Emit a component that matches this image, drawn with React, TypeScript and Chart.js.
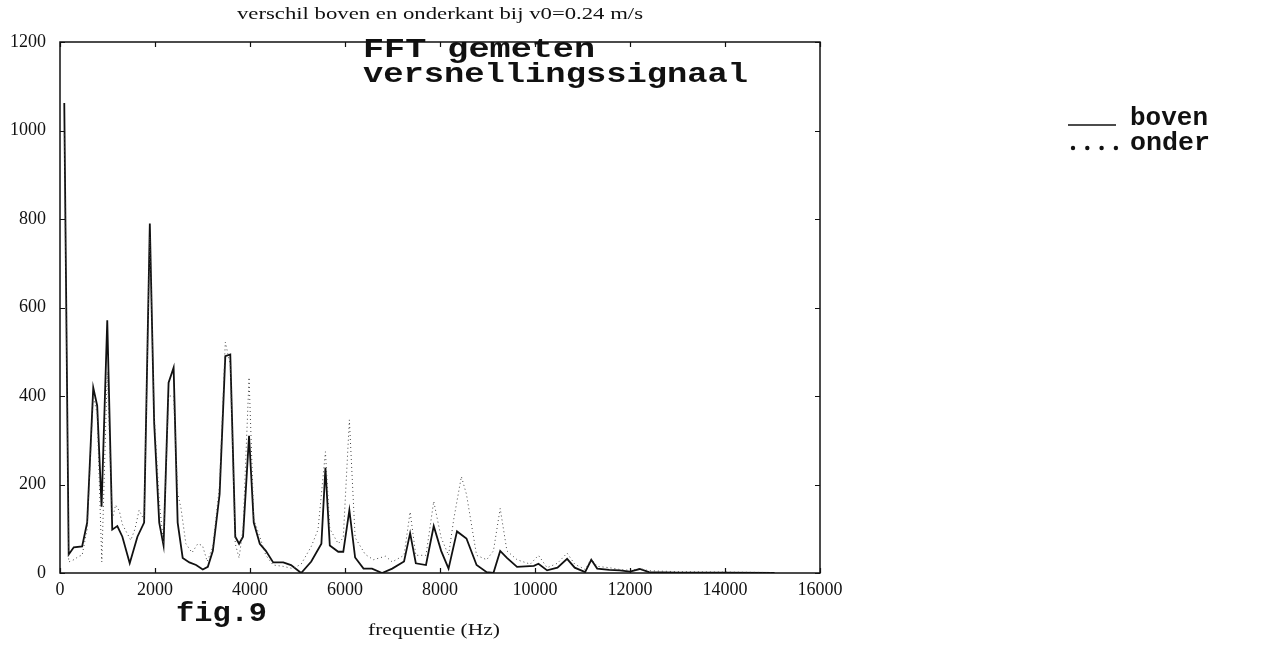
import React, { useEffect, useRef } from "react";
import { Chart, registerables } from "chart.js";

Chart.register(...registerables);

// FFT magnitude of the measured acceleration signal, top side ("boven")
const bovenFreq = [
  90, 183, 290, 466, 572, 700, 783, 875, 995, 1100, 1207, 1313, 1468, 1630, 1771, 1891, 1983,
  2089, 2180, 2286, 2392, 2477, 2583, 2724, 2865, 3006, 3112, 3218, 3360, 3480, 3585, 3690,
  3770, 3853, 3980, 4079, 4206, 4333, 4488, 4700, 4864, 5077, 5290, 5503, 5588, 5680, 5858,
  5964, 6092, 6213, 6390, 6568, 6781, 6994, 7243, 7371, 7491, 7705, 7868, 8024, 8180, 8358,
  8557, 8770, 8983, 9125, 9267, 9409, 9622, 9977, 10073, 10255, 10473, 10676, 10836, 11055,
  11185, 11309, 11564, 11782, 12000, 12204, 12400, 13000, 14000, 15040,
];
const bovenAmp = [
  1062, 42, 58, 60, 114, 419, 378, 150, 571, 98, 106, 82, 22, 82, 114, 790, 338,
  114, 62, 430, 464, 114, 34, 24, 18, 8, 14, 50, 178, 490, 494, 82,
  66, 82, 310, 114, 66, 50, 24, 24, 18, 0, 26, 66, 238, 62, 48,
  48, 142, 35, 10, 10, 0, 10, 26, 90, 22, 18, 106, 50, 10, 94,
  78, 18, 2, 0, 50, 34, 14, 16, 21, 6, 12, 32, 12, 2,
  30, 10, 7, 6, 3, 9, 2, 1, 1, 0,
];

// FFT magnitude, bottom side ("onder")
const onderFreq = [
  90, 183, 290, 400, 466, 520, 572, 700, 783, 880, 995, 1100, 1170, 1250, 1313, 1490, 1580,
  1665, 1771, 1891, 1983, 2089, 2180, 2286, 2392, 2477, 2548, 2650, 2780, 2900, 3000, 3100,
  3218, 3360, 3480, 3585, 3690, 3770, 3853, 3980, 4079, 4206, 4333, 4488, 4700, 4900, 5077,
  5290, 5432, 5588, 5680, 5858, 5964, 6092, 6213, 6426, 6600, 6852, 6994, 7243, 7371, 7491,
  7705, 7868, 8024, 8180, 8287, 8450, 8557, 8770, 8983, 9125, 9267, 9409, 9622, 9900, 10073,
  10255, 10473, 10676, 10836, 11055, 11185, 11309, 11564, 11782, 12000, 12204, 12400, 13000,
  14000, 15040,
];
const onderAmp = [
  1000, 25, 30, 38, 40, 70, 100, 400, 360, 25, 455, 120, 154, 140, 110, 74, 100,
  142, 120, 760, 360, 162, 66, 400, 400, 180, 146, 66, 46, 66, 62, 26,
  60, 200, 522, 470, 66, 34, 100, 442, 122, 82, 40, 18, 15, 10, 20,
  60, 98, 274, 100, 66, 80, 346, 80, 42, 30, 38, 25, 40, 138, 40,
  40, 162, 80, 40, 120, 218, 178, 40, 30, 50, 146, 50, 30, 20, 40,
  12, 22, 45, 20, 8, 32, 15, 12, 8, 6, 10, 5, 3,
  2, 1,
];

const xTicks = [0, 2000, 4000, 6000, 8000, 10000, 12000, 14000, 16000];
const yTicks = [0, 200, 400, 600, 800, 1000, 1200];

const titleText = "verschil boven en onderkant bij v0=0.24 m/s";
const xAxisTitle = "frequentie (Hz)";
const noteLines = ["FFT gemeten", "versnellingssignaal"];
const figLabel = "fig.9";
const legendLabels = ["boven", "onder"];

const SERIF = '"Liberation Serif", "Times New Roman", serif';
const MONO = '"Liberation Mono", "Courier New", monospace';

function fitText(
  ctx: CanvasRenderingContext2D,
  text: string,
  x: number,
  y: number,
  font: string,
  width: number
) {
  ctx.save();
  ctx.font = font;
  ctx.fillStyle = "#111";
  ctx.textAlign = "left";
  ctx.textBaseline = "alphabetic";
  const w = ctx.measureText(text).width;
  ctx.translate(x, y);
  ctx.scale(width / w, 1);
  ctx.fillText(text, 0, 0);
  ctx.restore();
}

const framePlugin = {
  id: "frameAndText",
  afterDraw(chart: any) {
    const { ctx, chartArea } = chart;
    const { left, right, top, bottom } = chartArea;
    const xs = chart.scales.x;
    const ys = chart.scales.y;
    ctx.save();
    ctx.strokeStyle = "#111";
    ctx.lineWidth = 1.5;
    ctx.strokeRect(left, top, right - left, bottom - top);
    // inward ticks on all four sides
    ctx.lineWidth = 1.2;
    const tl = 5;
    ctx.beginPath();
    for (const v of xTicks) {
      const px = Math.round(xs.getPixelForValue(v)) + 0.5;
      ctx.moveTo(px, bottom);
      ctx.lineTo(px, bottom - tl);
      ctx.moveTo(px, top);
      ctx.lineTo(px, top + tl);
    }
    for (const v of yTicks) {
      const py = Math.round(ys.getPixelForValue(v)) + 0.5;
      ctx.moveTo(left, py);
      ctx.lineTo(left + tl, py);
      ctx.moveTo(right, py);
      ctx.lineTo(right - tl, py);
    }
    ctx.stroke();
    ctx.restore();

    fitText(ctx, titleText, 237, 19, `17px ${SERIF}`, 406);
    fitText(ctx, xAxisTitle, 368, 635, `17px ${SERIF}`, 132);
    fitText(ctx, noteLines[0], 363, 57, `bold 27px ${MONO}`, 232);
    fitText(ctx, noteLines[1], 363, 82, `bold 27px ${MONO}`, 385);
    fitText(ctx, figLabel, 176, 621, `bold 28px ${MONO}`, 91);

    // legend
    fitText(ctx, legendLabels[0], 1130, 125, `bold 25px ${MONO}`, 78);
    fitText(ctx, legendLabels[1], 1130, 150, `bold 25px ${MONO}`, 80);
    ctx.save();
    ctx.strokeStyle = "#111";
    ctx.lineWidth = 1.6;
    ctx.beginPath();
    ctx.moveTo(1068, 125);
    ctx.lineTo(1116, 125);
    ctx.stroke();
    ctx.fillStyle = "#111";
    for (let i = 0; i < 4; i++) {
      ctx.beginPath();
      ctx.arc(1073 + i * 14.3, 148, 2.2, 0, Math.PI * 2);
      ctx.fill();
    }
    ctx.restore();
  },
};

export default function App() {
  const ref = useRef<HTMLCanvasElement | null>(null);

  useEffect(() => {
    if (!ref.current) return;
    const boven = bovenFreq.map((f, i) => ({ x: f, y: bovenAmp[i] }));
    const onder = onderFreq.map((f, i) => ({ x: f, y: onderAmp[i] }));
    const chart = new Chart(ref.current, {
      type: "line",
      data: {
        datasets: [
          {
            label: "onder",
            data: onder,
            borderColor: "#444",
            borderWidth: 1,
            borderDash: [1, 3],
            pointRadius: 0,
            tension: 0,
            fill: false,
          },
          {
            label: "boven",
            data: boven,
            borderColor: "#111",
            borderWidth: 1.8,
            pointRadius: 0,
            tension: 0,
            fill: false,
          },
        ],
      },
      options: {
        responsive: false,
        animation: false,
        events: [],
        layout: { padding: { top: 42, left: 0, right: 446, bottom: 0 } },
        plugins: {
          legend: { display: false },
          tooltip: { enabled: false },
          title: { display: false },
        },
        scales: {
          x: {
            type: "linear",
            min: 0,
            max: 16000,
            afterFit: (s: any) => {
              s.height = 75;
            },
            afterBuildTicks: (s: any) => {
              s.ticks = xTicks.map((v) => ({ value: v }));
            },
            grid: { display: false, drawTicks: false },
            border: { display: false },
            ticks: {
              padding: 6,
              color: "#111",
              font: { family: SERIF, size: 18 },
              maxRotation: 0,
              autoSkip: false,
              callback: (v: any) => String(v),
            },
          },
          y: {
            type: "linear",
            min: 0,
            max: 1200,
            afterFit: (s: any) => {
              s.width = 60;
            },
            afterBuildTicks: (s: any) => {
              s.ticks = yTicks.map((v) => ({ value: v }));
            },
            grid: { display: false, drawTicks: false },
            border: { display: false },
            ticks: {
              padding: 14,
              color: "#111",
              font: { family: SERIF, size: 18 },
              autoSkip: false,
              callback: (v: any) => String(v),
            },
          },
        },
      },
      plugins: [framePlugin],
    });
    return () => chart.destroy();
  }, []);

  return (
    <div style={{ position: "fixed", left: 0, top: 0, width: 1266, height: 648, background: "#fff" }}>
      <canvas ref={ref} width={1266} height={648} style={{ display: "block" }} />
    </div>
  );
}
